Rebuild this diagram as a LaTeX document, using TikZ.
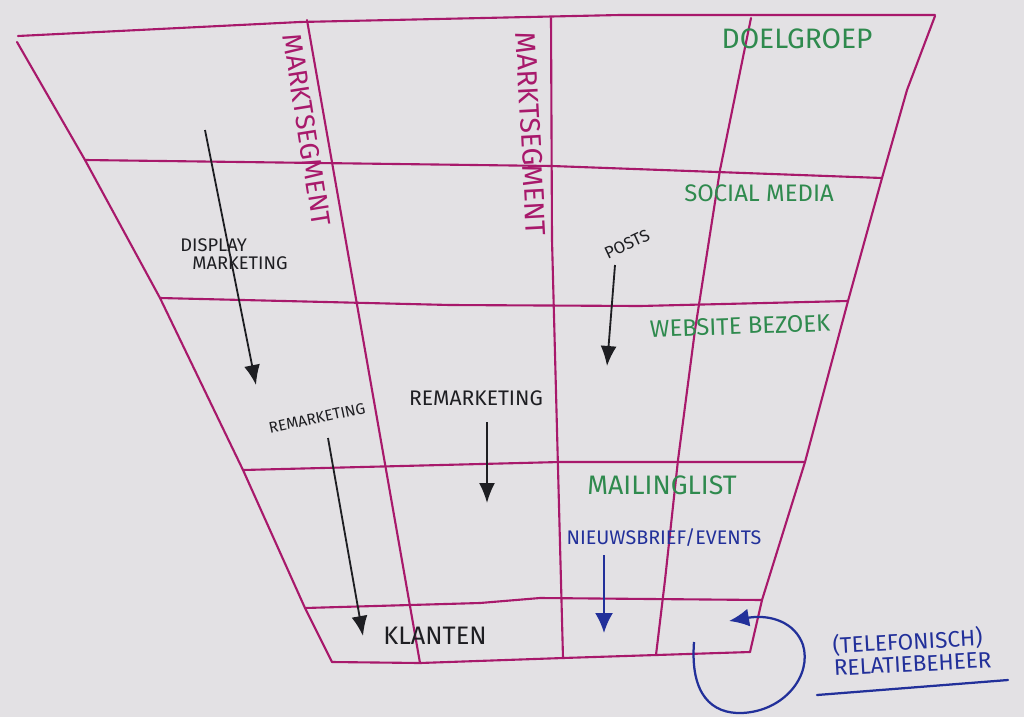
\documentclass[tikz,border=0pt]{standalone}
\usepackage{fontspec}
\setmainfont{Fira Sans}
\usepackage{xcolor}
\usetikzlibrary{arrows.meta,positioning}
\definecolor{paper}{HTML}{E3E1E4}
\definecolor{segmagenta}{HTML}{A8196B}
\definecolor{grpgreen}{HTML}{2F8A4E}
\definecolor{inkblue}{HTML}{22309A}
\definecolor{ink}{HTML}{1E1E22}
\newcommand{\fs}[1]{\fontsize{#1}{#1}\selectfont}

\begin{document}
\begin{tikzpicture}[
  x=0.025cm, y=-0.025cm,
  pen/.style={draw=segmagenta, line width=1.5pt, line join=round, line cap=round},
  seg/.style={text=segmagenta, font=\fs{19}, inner sep=0pt},
  grp/.style={text=grpgreen, font=\fs{18}, inner sep=0pt},
  note/.style={text=ink, font=\fs{13}, inner sep=0pt},
  bluenote/.style={text=inkblue, font=\fs{13}, inner sep=0pt},
  arr/.style={-{Latex[length=5mm, width=4mm]}, line width=1.3pt, draw=ink},
  bluearr/.style={-{Latex[length=5mm, width=4.5mm]}, line width=1.6pt, draw=inkblue}
]
\fill[paper] (0,0) rectangle (1024,717);
\useasboundingbox (0,0) rectangle (1024,717);

% funnel
\draw[pen] (18,36) -- (300,22) -- (620,15) -- (935,15);
\draw[pen] (17,42) -- (85,160) -- (160,298) -- (243,470) -- (305,608) -- (332,662);
\draw[pen] (935,16) -- (907,90) -- (882,178) -- (848,301) -- (805,462) -- (762,600) -- (750,652);
\draw[pen] (85,160) -- (552,166) -- (882,178);
\draw[pen] (160,298) -- (450,305) -- (640,306) -- (848,301);
\draw[pen] (243,470) -- (560,462) -- (805,462);
\draw[pen] (305,608) -- (480,603) -- (540,598) -- (762,600);
\draw[pen] (332,662) -- (420,663) -- (563,658) -- (750,652);

% segments
\draw[pen] (307,20) -- (420,663);
\draw[pen] (551,18) -- (552,240) -- (563,658);
\draw[pen] (751,18) -- (720,170) -- (695,330) -- (678,460) -- (665,580) -- (656,655);

\node[seg, rotate=-81] (seg1) at (307,130) {MARKTSEGMENT};
\node[seg, rotate=-87, font=\fs{20}] (seg2) at (531,134) {MARKTSEGMENT};

\node[grp, font=\fs{20}] (doel) at (797,39) {DOELGROEP};
\node[grp, font=\fs{17}] (social) at (759,193) {SOCIAL MEDIA};
\node[grp, font=\fs{17}, rotate=2] (site) at (740,326) {WEBSITE BEZOEK};
\node[grp, font=\fs{19}] (mail) at (662,485) {MAILINGLIST};
\node[bluenote, font=\fs{14}] (news) at (664,538) {NIEUWSBRIEF/EVENTS};
\node[note, font=\fs{18}] (klant) at (435,636) {KLANTEN};

\node[note, align=left] (display) at (234,254) {DISPLAY\\\hspace{3mm}MARKETING};
\node[note, font=\fs{11}, rotate=12] (remleft) at (317,418) {REMARKETING};
\node[note, font=\fs{15}] (remmid) at (476,398) {REMARKETING};
\node[note, font=\fs{12}, rotate=25] (posts) at (627,244) {POSTS};

\node[bluenote, font=\fs{16}, align=left, rotate=3] (tel) at (912,651) {(TELEFONISCH)\\RELATIEBEHEER};
\coordinate (ul-a) at (817,695);
\coordinate (ul-b) at (1008,680);
\draw[draw=inkblue, line width=1.6pt, line cap=round] (ul-a) -- (ul-b);

% arrows
\coordinate (dm-top) at (205,130);
\coordinate (dm-end) at (256,385);
\coordinate (po-top) at (615,265);
\coordinate (po-end) at (607,366);
\coordinate (rm-top) at (487,422);
\coordinate (rm-end) at (487,503);
\coordinate (rl-top) at (328,438);
\coordinate (rl-end) at (363,636);
\coordinate (nb-top) at (604,555);
\coordinate (nb-end) at (604,633);
\coordinate (loop-a) at (694,642);
\coordinate (loop-b) at (729,621);

\draw[arr] (dm-top) -- (dm-end);
\draw[arr] (po-top) -- (po-end);
\draw[arr] (rm-top) -- (rm-end);
\draw[arr] (rl-top) -- (rl-end);
\draw[bluearr] (nb-top) -- (nb-end);
\draw[bluearr] (loop-a) .. controls (690,695) and (712,714) .. (742,713)
  .. controls (785,711) and (812,675) .. (803,645)
  .. controls (795,622) and (770,614) .. (loop-b);
\end{tikzpicture}
\end{document}
